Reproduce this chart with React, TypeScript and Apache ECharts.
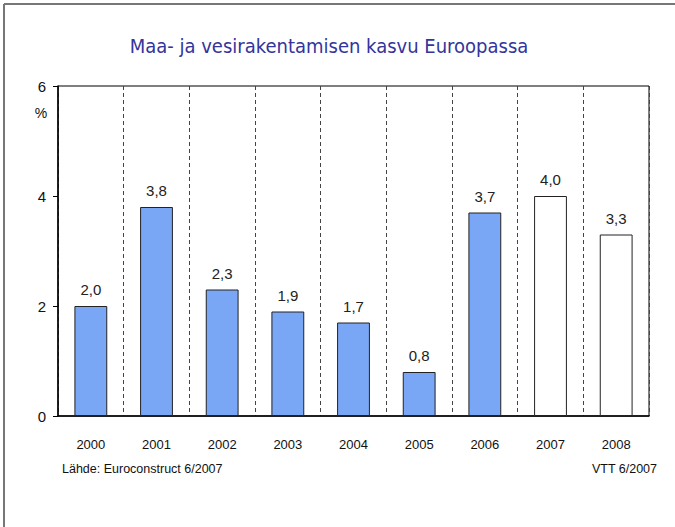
import React, { useEffect, useRef } from "react";
import * as echarts from "echarts";

const categories = ["2000", "2001", "2002", "2003", "2004", "2005", "2006", "2007", "2008"];
const values = [2.0, 3.8, 2.3, 1.9, 1.7, 0.8, 3.7, 4.0, 3.3];
const forecast = [false, false, false, false, false, false, false, true, true];
const yTicks = { min: 0, max: 6, interval: 2 };
const titleText = "Maa- ja vesirakentamisen kasvu Euroopassa";
const sourceText = "Lähde: Euroconstruct 6/2007";
const creditText = "VTT 6/2007";
const unitText = "%";

export default function App() {
  const ref = useRef<HTMLDivElement>(null);
  useEffect(() => {
    if (!ref.current) return;
    const chart = echarts.init(ref.current, null, { renderer: "svg" });
    const sans = "Liberation Sans, Arial, sans-serif";
    chart.setOption({
      animation: false,
      backgroundColor: "#ffffff",
      grid: {
        left: 58,
        top: 86,
        right: 26,
        bottom: 111,
        show: true,
        borderColor: "#000",
        borderWidth: 1,
        backgroundColor: "transparent",
      },
      xAxis: {
        type: "category",
        data: categories,
        boundaryGap: true,
        axisLine: { show: true, lineStyle: { color: "#000", width: 1.5 } },
        axisTick: { show: false },
        axisLabel: { color: "#111", fontFamily: sans, fontSize: 13, margin: 22 },
        splitLine: {
          show: true,
          interval: 0,
          lineStyle: { color: "#444", type: [4, 3], width: 1 },
        },
      },
      yAxis: {
        type: "value",
        min: yTicks.min,
        max: yTicks.max,
        interval: yTicks.interval,
        axisLine: { show: true, lineStyle: { color: "#000", width: 1.5 } },
        axisTick: { show: true, inside: false, length: 5, lineStyle: { color: "#000" } },
        axisLabel: { color: "#111", fontFamily: sans, fontSize: 15, margin: 12 },
        splitLine: { show: false },
      },
      series: [
        {
          type: "bar",
          barWidth: "50%",
          data: values.map((v, i) => ({
            value: v,
            itemStyle: {
              color: forecast[i] ? "#ffffff" : "#7aa7f5",
              borderColor: "#222",
              borderWidth: 1,
            },
          })),
          label: {
            show: true,
            position: "top",
            distance: 9,
            color: "#222",
            fontFamily: sans,
            fontSize: 15,
            formatter: (p: any) => p.value.toFixed(1).replace(".", ","),
          },
        },
      ],
      graphic: [
        {
          type: "line",
          shape: { x1: 4, y1: 4, x2: 675, y2: 4 },
          style: { stroke: "#777", lineWidth: 2 },
        },
        {
          type: "line",
          shape: { x1: 4, y1: 4, x2: 4, y2: 527 },
          style: { stroke: "#777", lineWidth: 2 },
        },
        {
          type: "text",
          x: 329,
          y: 46,
          style: {
            text: titleText,
            fill: "#34349c",
            font: "20px 'DejaVu Sans Condensed', 'DejaVu Sans', sans-serif",
            textAlign: "center",
            textVerticalAlign: "middle",
          },
        },
        {
          type: "text",
          x: 41,
          y: 113,
          style: {
            text: unitText,
            fill: "#111",
            font: "14px 'Liberation Sans', sans-serif",
            textAlign: "center",
            textVerticalAlign: "middle",
          },
        },
        {
          type: "text",
          x: 62,
          y: 469,
          style: {
            text: sourceText,
            fill: "#111",
            font: "12.5px 'Liberation Sans', sans-serif",
            textAlign: "left",
            textVerticalAlign: "middle",
          },
        },
        {
          type: "text",
          x: 657,
          y: 469,
          style: {
            text: creditText,
            fill: "#111",
            font: "12.5px 'Liberation Sans', sans-serif",
            textAlign: "right",
            textVerticalAlign: "middle",
          },
        },
      ],
    });
    return () => chart.dispose();
  }, []);
  return (
    <div
      ref={ref}
      style={{ position: "fixed", left: 0, top: 0, width: 675, height: 527, background: "#fff" }}
    />
  );
}
